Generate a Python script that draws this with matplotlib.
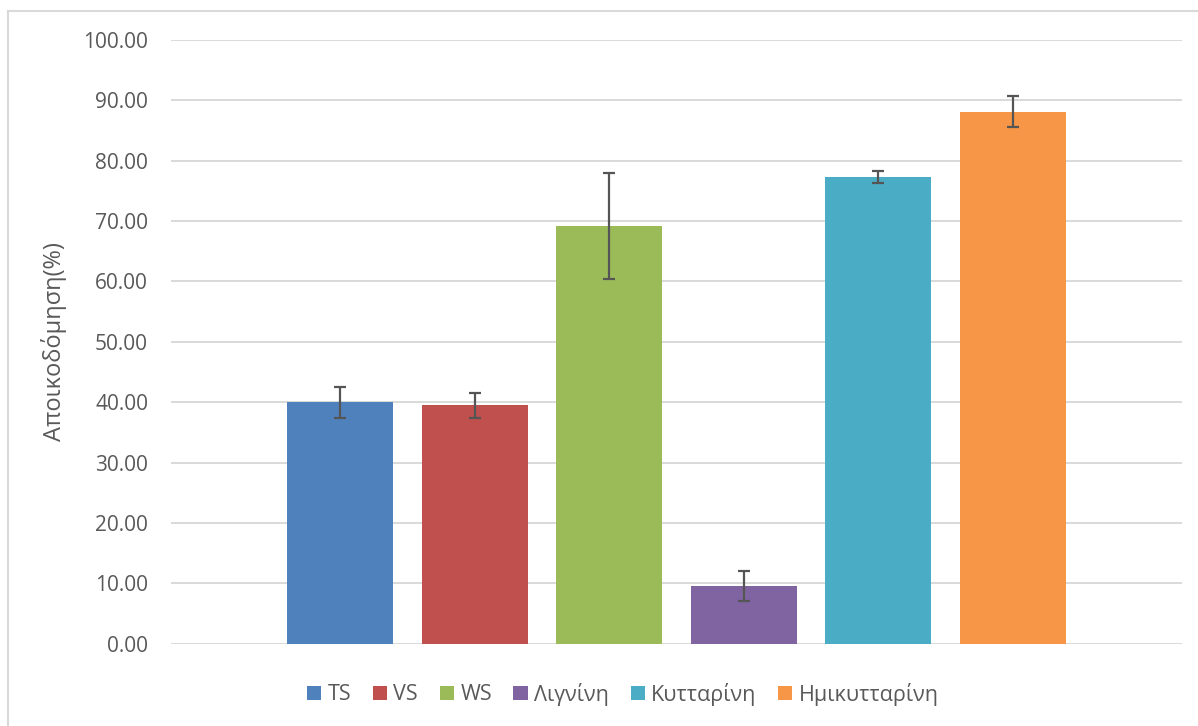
import matplotlib
matplotlib.use("Agg")
import matplotlib.pyplot as plt
from matplotlib.patches import Patch
from matplotlib.lines import Line2D
from matplotlib.ticker import FormatStrFormatter

# Degradation (%) per fraction, with standard deviations
categories = ["TS", "VS", "WS", "Λιγνίνη", "Κυτταρίνη", "Ημικυτταρίνη"]
values = [40.0, 39.5, 69.2, 9.55, 77.3, 88.1]
errors = [2.6, 2.05, 8.8, 2.45, 1.05, 2.55]
colors = ["#4F81BD", "#C0504D", "#9BBB59", "#8064A2", "#4BACC6", "#F79646"]
y_ticks = [0, 10, 20, 30, 40, 50, 60, 70, 80, 90, 100]
y_label = "Αποικοδόμηση(%)"

plt.rcParams["font.family"] = ["Open Sans", "DejaVu Sans"]
text_color = "#595959"
grid_color = "#D9D9D9"

W, H = 1198, 726
fig = plt.figure(figsize=(W / 100, H / 100), dpi=100)
ax = fig.add_axes([171 / W, (H - 643.7) / H, (1182 - 171) / W, (643.7 - 40) / H])

x = list(range(len(categories)))
ax.bar(x, values, width=0.787, color=colors, zorder=3)
ax.errorbar(x, values, yerr=errors, fmt="none", ecolor="#555555",
            elinewidth=1.6, capsize=4.6, capthick=1.6, zorder=4)

ax.set_xlim(-1.256, len(categories) - 1 + 1.256)
ax.set_ylim(0, 100)
ax.set_yticks(y_ticks)
ax.yaxis.set_major_formatter(FormatStrFormatter("%.2f"))
ax.set_xticks([])
ax.tick_params(axis="y", length=0, pad=16.5, labelsize=15, labelcolor=text_color)
ax.grid(axis="y", color=grid_color, linewidth=1.4, zorder=0)
for s in ax.spines.values():
    s.set_visible(False)

ax.set_ylabel(y_label, fontsize=17, color=text_color, labelpad=12)

handles = [Patch(facecolor=c, edgecolor="none") for c in colors]
fig.legend(handles, categories, loc="center left",
           bbox_to_anchor=(307 / W, (H - 694) / H), ncol=len(categories),
           frameon=False, fontsize=15.5, labelcolor=text_color,
           handlelength=0.66, handleheight=0.66, handletextpad=0.3,
           columnspacing=1.0, borderpad=0, borderaxespad=0)

# light chart-area frame
fig.add_artist(Line2D([7.5 / W, 7.5 / W], [0, (H - 11) / H], color=grid_color,
                      linewidth=1.5, transform=fig.transFigure))
fig.add_artist(Line2D([7.5 / W, 1], [(H - 11) / H, (H - 11) / H], color=grid_color,
                      linewidth=1.5, transform=fig.transFigure))

fig.savefig("out.png", dpi=100, facecolor="white")
